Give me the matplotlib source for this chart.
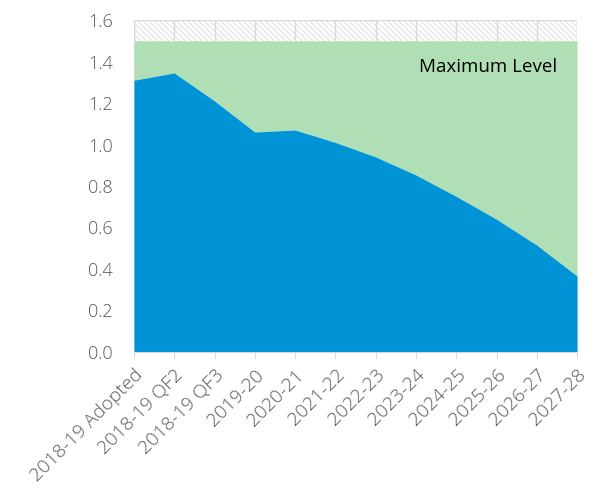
import numpy as np
import matplotlib.pyplot as plt

plt.rcParams['font.family'] = ['Open Sans', 'DejaVu Sans']
plt.rcParams['hatch.linewidth'] = 0.6

# Debt ratio by forecast period
periods = ["2018-19 Adopted", "2018-19 QF2", "2018-19 QF3", "2019-20", "2020-21",
           "2021-22", "2022-23", "2023-24", "2024-25", "2025-26", "2026-27", "2027-28"]
actual = [1.31, 1.345, 1.21, 1.06, 1.07, 1.01, 0.94, 0.853, 0.75, 0.64, 0.515, 0.366]
max_level = 1.5
cap = 1.6

x = np.arange(len(periods))
actual = np.array(actual)

fig = plt.figure(figsize=(5.98, 4.92), dpi=100)
ax = fig.add_axes([0.224, 0.2846, 0.741, 0.6747])

# vertical guide lines at each period (only visible in the hatched band)
for xi in x:
    ax.axvline(xi, color="#d9d9d9", lw=1, zorder=1)

ax.fill_between(x, max_level, cap, facecolor="none", edgecolor="#d9d9d9",
                hatch="\\\\\\\\\\\\", lw=0, zorder=0.5)
ax.fill_between(x, actual, max_level, color="#b0dfb5", lw=0, zorder=2)
ax.fill_between(x, 0, actual, color="#0094d6", lw=0, zorder=3)

# outline of the band
ax.plot([x[0], x[0], x[-1], x[-1]], [max_level, cap, cap, max_level],
        color="#d9d9d9", lw=1, zorder=4)

ax.text(x[-1] - 0.5, 1.375, "Maximum Level", ha="right", va="center",
        fontsize=13.5, color="black", zorder=5)

ax.set_xlim(x[0], x[-1])
ax.set_ylim(0, cap)
ax.set_yticks(np.arange(0, 1.61, 0.2))
ax.set_yticklabels([f"{v:.1f}" for v in np.arange(0, 1.61, 0.2)])
ax.set_xticks(x)
ax.set_xticklabels(periods, rotation=45, ha="right", rotation_mode="anchor")

for s in ["top", "right", "left"]:
    ax.spines[s].set_visible(False)
ax.spines["bottom"].set_color("#d9d9d9")
ax.spines["bottom"].set_zorder(6)
ax.tick_params(axis="y", length=0, pad=15, labelsize=13, labelcolor="#595959")
ax.tick_params(axis="x", length=5, color="#d9d9d9", pad=5, labelsize=13.8,
               labelcolor="#595959")
for lbl in ax.get_xticklabels() + ax.get_yticklabels():
    lbl.set_fontweight("light")

fig.savefig("out.png", dpi=100)
